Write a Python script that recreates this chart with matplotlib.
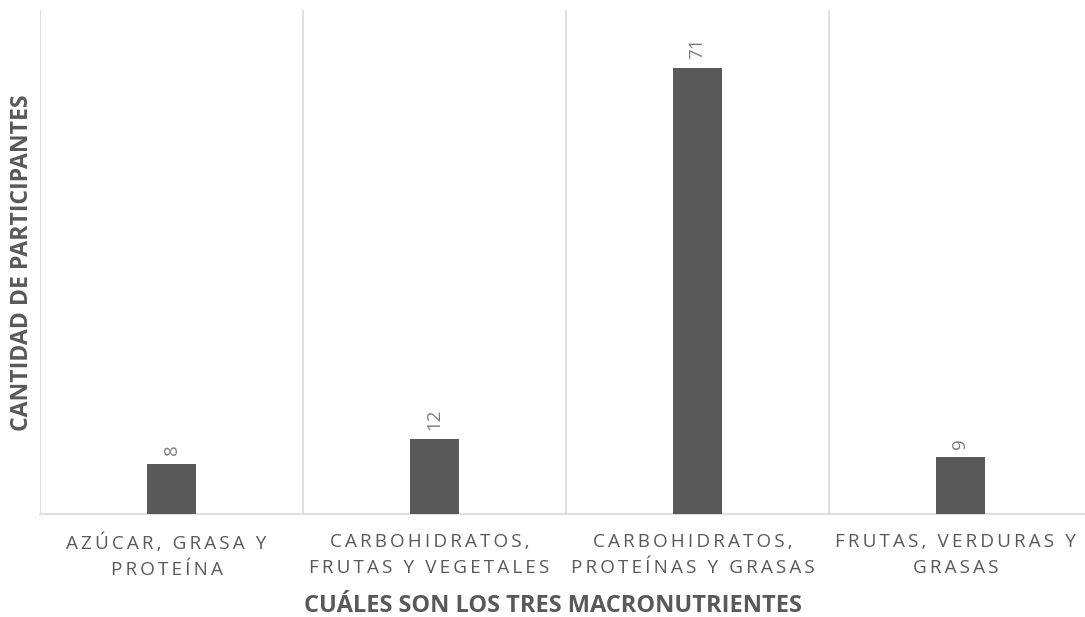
import matplotlib
matplotlib.use("Agg")
import matplotlib.pyplot as plt
from matplotlib.transforms import ScaledTranslation

categories = ["AZÚCAR, GRASA Y\nPROTEÍNA",
              "CARBOHIDRATOS,\nFRUTAS Y VEGETALES",
              "CARBOHIDRATOS,\nPROTEÍNAS Y GRASAS",
              "FRUTAS, VERDURAS Y\nGRASAS"]
values = [8, 12, 71, 9]
x_title = "CUÁLES SON LOS TRES MACRONUTRIENTES"
y_title = "CANTIDAD DE PARTICIPANTES"

plt.rcParams['font.family'] = ['Open Sans', 'DejaVu Sans']

def spaced(s):
    lines = []
    for line in s.split("\n"):
        lines.append("\u2009".join(line))
    return "\n".join(lines)

W, H = 1085, 617
fig = plt.figure(figsize=(W/100, H/100), dpi=100)
ax = fig.add_axes([40/W, (H-514)/H, (1092-40)/W, (514-10)/H])

xs = list(range(len(values)))
bars = ax.bar(xs, values, width=0.183, color="#595959", zorder=3)
ax.set_xlim(-0.5, len(values)-0.5)
ax.set_ylim(0, 80.2)

for b, v in zip(bars, values):
    ax.annotate(str(v), (b.get_x()+b.get_width()/2, b.get_height()),
                xytext=(0, 6), textcoords="offset points",
                ha="center", va="bottom", rotation=90,
                fontsize=13.5, color="#7f7f7f")

for i in range(len(values)+1):
    ax.axvline(i-0.5, color="#d9d9d9", lw=1.2, zorder=1)

for s in ["top", "right", "left"]:
    ax.spines[s].set_visible(False)
ax.spines["bottom"].set_color("#d9d9d9")
ax.spines["bottom"].set_linewidth(1.2)
ax.set_yticks([])
ax.set_xticks(xs)
ax.set_xticklabels([spaced(c) for c in categories], fontsize=13.6, color="#595959",
                   linespacing=1.56)
ax.tick_params(axis="x", length=0, pad=14)
off = ScaledTranslation(-5/100, 0, fig.dpi_scale_trans)
for lab in ax.get_xticklabels():
    lab.set_transform(lab.get_transform() + off)

fig.text(553/W, 1-606/H, x_title, ha="center", va="center",
         fontsize=17, fontweight="bold", color="#595959")
fig.text(22/W, 1-263/H, y_title, ha="center", va="center", rotation=90,
         fontsize=16.6, fontweight="bold", color="#595959")

fig.savefig("out.png", dpi=100)
